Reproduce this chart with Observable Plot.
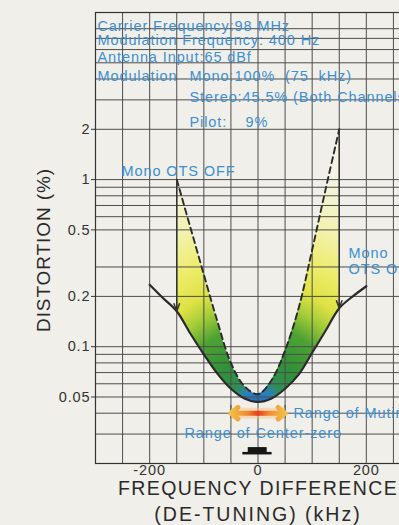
<!DOCTYPE html>
<html><head><meta charset="utf-8">
<script src="https://cdn.jsdelivr.net/npm/d3@7"></script>
<script src="https://cdn.jsdelivr.net/npm/@observablehq/plot@0.6"></script>
<style>
html,body{margin:0;padding:0;background:#f1efe9;overflow:hidden;width:399px;height:525px}
#chart svg{display:block}
</style></head><body><div id="chart"></div>
<script>
// ---- data (kHz, distortion %) ----
const kHz   = [-200, -175, -150, -125, -100, -75, -50, -25, 0, 25, 50, 75, 100, 125, 150, 175, 200];
const otsOn = [0.235, 0.195, 0.163, 0.12, 0.09, 0.069, 0.056, 0.049, 0.0467, 0.049, 0.056, 0.068, 0.092, 0.125, 0.17, 0.2, 0.23];
const offKHz = [-150, -125, -100, -75, -50, -25, 0, 25, 50, 75, 100, 125, 150];
const otsOff = [1.0, 0.52, 0.27, 0.142, 0.08, 0.058, 0.052, 0.063, 0.095, 0.17, 0.38, 0.88, 2.0];
const xTicks = [-200, 0, 200];
const yTicks = [2, 1, 0.5, 0.2, 0.1, 0.05];
const yTickLabels = ["2", "1", "0.5", "0.2", "0.1", "0.05"];
const xGrid = [-300, -250, -200, -150, -100, -50, 0, 50, 100, 150, 200, 250, 300];
const yGrid = [10, 8, 7, 6, 5, 4, 3, 2, 1, 0.9, 0.8, 0.7, 0.6, 0.5, 0.3, 0.2, 0.1, 0.09, 0.08, 0.07, 0.06, 0.05, 0.04, 0.03, 0.02];
const mutingRange = [-50, 50];
const mutingLevel = 0.04;
const mutingBar = [0.0372, 0.0444];
const centerZeroIcon = [
  {x1: -18, x2: 17, y1: 0.0231, y2: 0.0249},
  {x1: -28, x2: 26, y1: 0.0225, y2: 0.0233}
];
const infoLines = [
  "Carrier Frequency:98 MHz",
  "Modulation Frequency: 400 Hz",
  "Antenna Input:65 dBf",
  "Modulation",
  "Mono:",
  "100%  (75  kHz)",
  "Stereo:45.5% (Both Channels)",
  "Pilot:",
  "9%"
];
const labelOff = "Mono OTS OFF";
const labelOn = ["Mono", "OTS ON"];
const labelMuting = "Range of Muting";
const labelCenter = "Range of Center-zero";
const xTitle = ["FREQUENCY DIFFERENCE", "(DE-TUNING) (kHz)"];
const yTitle = "DISTORTION (%)";

// ---- derived tables ----
const onSeries = kHz.map((x, i) => ({x, y: otsOn[i]}));
const offSeries = offKHz.map((x, i) => ({x, y: otsOff[i]}));
const fillData = offKHz.map((x, i) => ({x, on: otsOn[kHz.indexOf(x)], off: otsOff[i]}));
const dropArrows = [offKHz[0], offKHz[offKHz.length - 1]].map(x => ({
  x, from: otsOff[offKHz.indexOf(x)], to: otsOn[kHz.indexOf(x)]
}));
const mutingArrows = mutingRange.map(x => ({from: 0, to: x, y: mutingLevel}));
const yLabelData = yTicks.map((v, i) => ({v, t: yTickLabels[i]}));

const blue = "#3b8fd2";
const ink = "#2a2a2a";
const gridC = "#4d4d4d";

const txt = (s, dx, dy, extra = {}) => Plot.text([s], {
  frameAnchor: "top-left", dx, dy, textAnchor: "start", lineAnchor: "bottom",
  fill: blue, fontSize: 14.5, ...extra
});

const chart = Plot.plot({
  width: 430, height: 525,
  marginTop: 12, marginBottom: 62, marginLeft: 95, marginRight: 10,
  style: {background: "transparent", maxWidth: "none", overflow: "hidden",
          fontFamily: "'Liberation Sans', Arial, sans-serif", letterSpacing: "0.9px"},
  x: {domain: [-300, 300]},
  y: {type: "log", domain: [0.02, 10]},
  marks: [
    Plot.areaY(fillData, {x: "x", y1: "on", y2: "off", fill: "url(#fillGrad)", curve: "catmull-rom"}),
    Plot.ruleX(xGrid, {stroke: gridC, strokeWidth: 1}),
    Plot.ruleY(yGrid, {stroke: gridC, strokeWidth: 1}),
    Plot.frame({stroke: "#333", strokeWidth: 1.2}),
    Plot.axisY({ticks: yTicks, tickFormat: () => " ", tickSize: 4, color: "#333", label: null}),
    Plot.text(yLabelData, {y: "v", text: "t", frameAnchor: "left", dx: -5, textAnchor: "end",
                           lineAnchor: "middle", fontSize: 14.5, fill: "#333"}),
    Plot.axisX({ticks: xTicks, tickFormat: d => String(d), tickSize: 0, tickPadding: 1,
                fontSize: 14.5, color: "#333", label: null}),
    // curves
    Plot.line(onSeries, {x: "x", y: "y", stroke: ink, strokeWidth: 2.2, curve: "catmull-rom"}),
    Plot.line(offSeries, {x: "x", y: "y", stroke: ink, strokeWidth: 1.9, strokeDasharray: "6,4", curve: "catmull-rom"}),
    Plot.arrow(dropArrows, {x1: "x", x2: "x", y1: "from", y2: "to", stroke: "#333",
                            strokeWidth: 1.5, headLength: 8, headAngle: 40}),
    // muting range
    Plot.ruleX(mutingRange, {y1: mutingBar[0], y2: mutingBar[1], stroke: "#555", strokeWidth: 1.3}),
    Plot.link(mutingArrows, {x1: "from", x2: "to", y1: "y", y2: "y", stroke: "#f7c27a",
                             strokeWidth: 11, strokeOpacity: 0.45}),
    Plot.arrow(mutingArrows, {x1: "from", x2: "to", y1: "y", y2: "y", stroke: "url(#muteGrad)",
                              strokeWidth: 5, headLength: 7, headAngle: 80}),
    Plot.rect(centerZeroIcon, {x1: "x1", x2: "x2", y1: "y1", y2: "y2", fill: "#161616"}),
    // annotations
    txt(infoLines[0], 2, 18),
    txt(infoLines[1], 2, 32.5),
    txt(infoLines[2], 2, 49),
    txt(infoLines[3], 2, 68),
    txt(infoLines[4], 94, 68),
    txt(infoLines[5], 139, 68),
    txt(infoLines[6], 94, 89.5),
    txt(infoLines[7], 94, 114),
    txt(infoLines[8], 150, 114),
    txt(labelOff, 26, 163),
    txt(labelOn[0], 253, 245),
    txt(labelOn[1], 253, 261),
    txt(labelMuting, 198, 405),
    txt(labelCenter, 89, 425),
    // titles
    Plot.text([xTitle[0]], {frameAnchor: "bottom", dy: 31, lineAnchor: "bottom", fontSize: 19.5, fill: ink}),
    Plot.text([xTitle[1]], {frameAnchor: "bottom", dy: 57, lineAnchor: "bottom", fontSize: 19.5, fill: ink}),
    Plot.text([yTitle], {frameAnchor: "left", dx: -52, dy: 12, rotate: -90, lineAnchor: "middle",
                         textAnchor: "middle", fontSize: 19, fill: ink})
  ]
});

// gradients through the plot's scales
const xs = chart.scale("x"), ys = chart.scale("y");
const svg = d3.select(chart);
const defs = svg.insert("defs", ":first-child");
const rg = defs.append("radialGradient").attr("id", "fillGrad").attr("gradientUnits", "userSpaceOnUse")
  .attr("cx", xs.apply(0)).attr("cy", ys.apply(0.045)).attr("r", 240);
[[0, "#1f6fc0"], [0.06, "#2a7fbf"], [0.11, "#2f8e52"], [0.2, "#2f9137"], [0.33, "#4ea232"],
 [0.42, "#a3cc38"], [0.5, "#dfe244"], [0.62, "#ecec6a"], [0.78, "#f3f2b0"], [1, "#f4f3e4"]]
  .forEach(([o, c]) => rg.append("stop").attr("offset", o).attr("stop-color", c));
const mg = defs.append("linearGradient").attr("id", "muteGrad").attr("gradientUnits", "userSpaceOnUse")
  .attr("x1", xs.apply(mutingRange[0])).attr("x2", xs.apply(mutingRange[1])).attr("y1", 0).attr("y2", 0);
[[0, "#f2c048"], [0.3, "#f08a30"], [0.5, "#e8401e"], [0.7, "#f08a30"], [1, "#f2c048"]]
  .forEach(([o, c]) => mg.append("stop").attr("offset", o).attr("stop-color", c));

svg.selectAll("text").filter(function () {
  return this.textContent === xTitle[0];
}).style("letter-spacing", "1.4px");
svg.selectAll("text").filter(function () {
  return this.textContent === xTitle[1];
}).style("letter-spacing", "2px");

document.getElementById("chart").appendChild(chart);
</script>
</body></html>
